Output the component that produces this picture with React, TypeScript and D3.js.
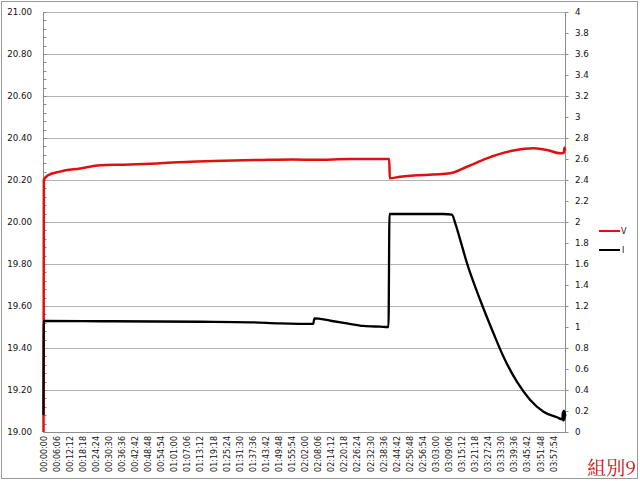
import React from "react";
import * as d3 from "d3";

const TIME_LABELS = [
  "00:00:00", "00:06:06", "00:12:12", "00:18:18", "00:24:24", "00:30:30", "00:36:36", "00:42:42",
  "00:48:48", "00:54:54", "01:01:00", "01:07:06", "01:13:12", "01:19:18", "01:25:24", "01:31:30",
  "01:37:36", "01:43:42", "01:49:48", "01:55:54", "02:02:00", "02:08:06", "02:14:12", "02:20:18",
  "02:26:24", "02:32:30", "02:38:36", "02:44:42", "02:50:48", "02:56:54", "03:03:00", "03:09:06",
  "03:15:12", "03:21:18", "03:27:24", "03:33:30", "03:39:36", "03:45:42", "03:51:48", "03:57:54",
];

const LEFT_TICKS = [19.0, 19.2, 19.4, 19.6, 19.8, 20.0, 20.2, 20.4, 20.6, 20.8, 21.0];
const RIGHT_TICKS = [0, 0.2, 0.4, 0.6, 0.8, 1, 1.2, 1.4, 1.6, 1.8, 2, 2.2, 2.4, 2.6, 2.8, 3, 3.2, 3.4, 3.6, 3.8, 4];

// time in seconds
const V_TIME = [0, 10, 104, 467, 1027, 1586, 2230, 3181, 4105, 5028, 5980, 6987, 7602, 8582, 9673, 9690, 9981, 11380, 11847, 12407, 13151, 13711, 14086, 14458, 14560, 14580, 14598];
const V_VALUE = [19.0, 20.2, 20.22, 20.24, 20.255, 20.27, 20.273, 20.279, 20.287, 20.292, 20.295, 20.298, 20.296, 20.3, 20.3, 20.208, 20.216, 20.232, 20.263, 20.303, 20.34, 20.351, 20.343, 20.327, 20.33, 20.355, 20.34];

const I_TIME = [0, 10, 1586, 4384, 5782, 6617, 7545, 7582, 8021, 8489, 8945, 9420, 9653, 9681, 11200, 11427, 11520, 11660, 11847, 12219, 12591, 12871, 13246, 13618, 13990, 14365, 14520, 14530, 14540, 14550, 14560, 14570, 14580, 14590, 14600];
const I_VALUE = [0.16, 1.057, 1.055, 1.05, 1.045, 1.035, 1.03, 1.083, 1.06, 1.035, 1.01, 1.003, 1.0, 2.076, 2.076, 2.07, 1.99, 1.83, 1.61, 1.257, 0.94, 0.717, 0.479, 0.305, 0.193, 0.14, 0.12, 0.19, 0.11, 0.2, 0.11, 0.2, 0.12, 0.19, 0.15];

const SERIES_NAMES = ["V", "I"];
const T_END = 14606;

function toSec(s: string) {
  const [h, m, sec] = s.split(":").map(Number);
  return h * 3600 + m * 60 + sec;
}

export default function App() {
  const W = 640, H = 481;
  const left = 43.5, right = 565.5, top = 12, bottom = 432;
  const x = d3.scaleLinear().domain([0, T_END]).range([left, right]);
  const yL = d3.scaleLinear().domain([19, 21]).range([bottom, top]);
  const yR = d3.scaleLinear().domain([0, 4]).range([bottom, top]);

  const vData = V_TIME.map((t, i) => [t, V_VALUE[i]] as [number, number]);
  const iData = I_TIME.map((t, i) => [t, I_VALUE[i]] as [number, number]);
  const iLine = d3.line<[number, number]>().x(d => x(d[0])).y(d => yR(d[1])).curve(d3.curveMonotoneX);
  const vLine = d3.line<[number, number]>().x(d => x(d[0])).y(d => yL(d[1])).curve(d3.curveMonotoneX);

  const minor = d3.range(19, 21.0001, 0.04);
  const font = "'DejaVu Sans', Verdana, sans-serif";

  return (
    <svg width={W} height={H} style={{ position: "absolute", left: 0, top: 0, background: "#fff" }}>
      <rect x={1.5} y={1.5} width={636} height={477} fill="#fff" stroke="#9a9a9a" />
      {LEFT_TICKS.map(v => (
        <line key={"g" + v} x1={left} x2={right} y1={Math.round(yL(v)) + 0.5} y2={Math.round(yL(v)) + 0.5} stroke="#b4b4b4" strokeWidth={1} />
      ))}
      <line x1={left} x2={left} y1={top} y2={bottom} stroke="#8c8c8c" />
      {minor.map((v, k) => (
        <line key={"m" + k} x1={left} x2={left + 3} y1={Math.round(yL(v)) + 0.5} y2={Math.round(yL(v)) + 0.5} stroke="#8c8c8c" />
      ))}
      {LEFT_TICKS.map(v => (
        <text key={"l" + v} x={32} y={yL(v)} dy="0.35em" textAnchor="end" fontFamily={font} fontSize={8.7} fill="#111">
          {v.toFixed(2)}
        </text>
      ))}
      <line x1={right} x2={right} y1={top} y2={bottom} stroke="#8c8c8c" />
      {RIGHT_TICKS.map(v => (
        <g key={"r" + v}>
          <line x1={right} x2={right + 3} y1={Math.round(yR(v)) + 0.5} y2={Math.round(yR(v)) + 0.5} stroke="#8c8c8c" />
          <text x={575} y={yR(v)} dy="0.35em" textAnchor="start" fontFamily={font} fontSize={8.7} fill="#111">
            {String(+v.toFixed(1))}
          </text>
        </g>
      ))}
      <line x1={left} x2={right} y1={bottom + 0.5} y2={bottom + 0.5} stroke="#8c8c8c" />
      {TIME_LABELS.map(s => {
        const px = x(toSec(s));
        return (
          <text key={s} transform={`translate(${px + 3},${436}) rotate(-90)`} textAnchor="end" fontFamily={font} fontSize={8} fill="#111">
            {s}
          </text>
        );
      })}
      <path d={vLine(vData) || ""} fill="none" stroke="#e01010" strokeWidth={2.5} strokeLinejoin="round" />
      <path d={iLine(iData) || ""} fill="none" stroke="#000" strokeWidth={2.3} strokeLinejoin="round" />
      <line x1={599} x2={620} y1={231} y2={231} stroke="#e01010" strokeWidth={2} />
      <text x={621} y={231} dy="0.35em" fontFamily={font} fontSize={8} fill="#111">{SERIES_NAMES[0]}</text>
      <line x1={599} x2={620} y1={250} y2={250} stroke="#000" strokeWidth={2} />
      <text x={622} y={250} dy="0.35em" fontFamily={font} fontSize={8} fill="#111">{SERIES_NAMES[1]}</text>
      <text x={636} y={475} textAnchor="end" fontFamily="'Noto Serif CJK TC', 'Noto Sans CJK TC', serif" fontSize={19} fill="#d01010">組別9</text>
    </svg>
  );
}
